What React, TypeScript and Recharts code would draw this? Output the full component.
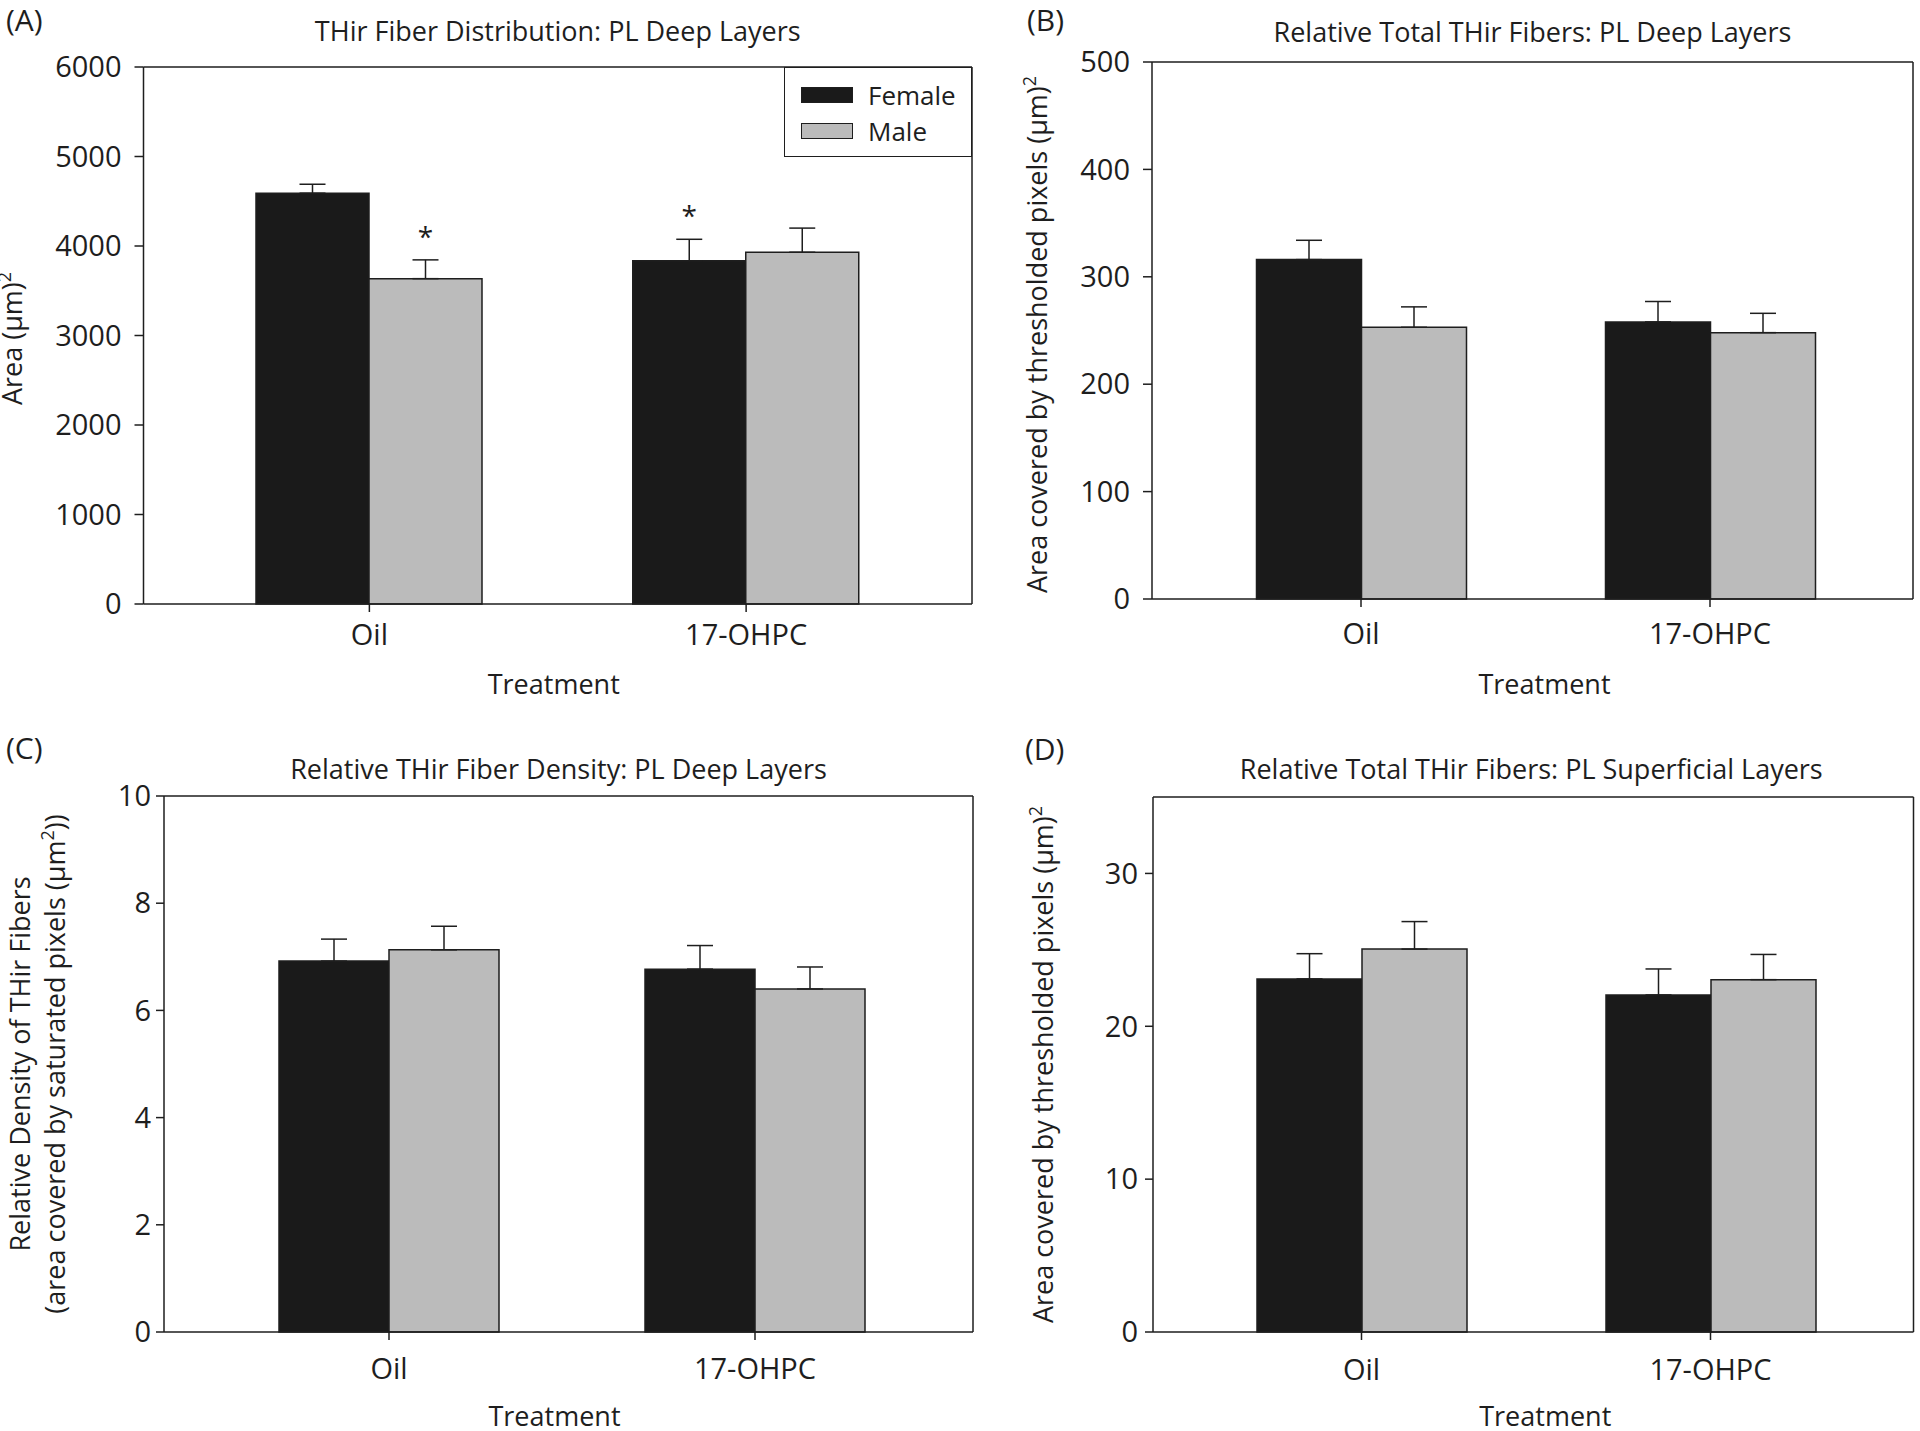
import React from 'react';
import {
  BarChart,
  Bar,
  XAxis,
  YAxis,
  ErrorBar,
  Label,
  LabelList,
  Legend,
  ReferenceLine,
  CartesianGrid,
} from 'recharts';

const treatments = ['Oil', '17-OHPC'];

// (A) THir fiber distribution, PL deep layers
const distFemale = [4590, 3835];
const distFemaleErr = [100, 240];
const distMale = [3635, 3930];
const distMaleErr = [210, 270];
const distFemaleSig = ['', '*'];
const distMaleSig = ['*', ''];

// (B) relative total THir fibers, PL deep layers
const deepFemale = [316, 258];
const deepFemaleErr = [18, 19];
const deepMale = [253, 248];
const deepMaleErr = [19, 18];

// (C) relative THir fiber density, PL deep layers
const densFemale = [6.92, 6.77];
const densFemaleErr = [0.41, 0.44];
const densMale = [7.13, 6.4];
const densMaleErr = [0.44, 0.41];

// (D) relative total THir fibers, PL superficial layers
const supFemale = [23.1, 22.05];
const supFemaleErr = [1.65, 1.7];
const supMale = [25.05, 23.05];
const supMaleErr = [1.8, 1.65];

const FEMALE = '#1a1a1a';
const MALE = '#bbbbbb';
const INK = '#1e1e1e';
const FONT = '"Open Sans", sans-serif';

type Part = { text: string; sup?: boolean };

const rows = (f: number[], fe: number[], m: number[], me: number[], fs?: string[], ms?: string[]) =>
  treatments.map((t, i) => ({
    treatment: t,
    female: f[i],
    male: m[i],
    femaleErr: [0, fe[i]],
    maleErr: [0, me[i]],
    femaleSig: fs ? fs[i] : '',
    maleSig: ms ? ms[i] : '',
  }));

// asterisk sits just above the error bar cap
const sigLabel = (vals: number[], errs: number[]) => (props: any) => {
  const { x, y, width, height, value, index } = props;
  if (!value) return null;
  const perUnit = height / vals[index];
  const top = y - errs[index] * perUnit;
  return (
    <text x={x + width / 2} y={top - 13} textAnchor="middle" fontSize={28} fill={INK} fontFamily={FONT}>
      {value}
    </text>
  );
};

// rotated axis title with real superscripts
const yTitle = (parts: Part[], x: number, shift: number) => (props: any) => {
  const vb = props.viewBox || { x: 0, y: 0, height: 0 };
  const tx = vb.x + x;
  const cy = vb.y + vb.height / 2 + shift;
  let raised = false;
  return (
    <text
      x={tx}
      y={cy}
      dy="0.355em"
      transform={`rotate(-90, ${tx}, ${cy})`}
      textAnchor="middle"
      fontSize={27}
      fill={INK}
      fontFamily={FONT}
    >
      {parts.map((p, i) => {
        let dy = 0;
        if (p.sup && !raised) { dy = -11; raised = true; }
        else if (!p.sup && raised) { dy = 11; raised = false; }
        return (
          <tspan key={i} dy={dy} fontSize={p.sup ? 18 : 27}>
            {p.text}
          </tspan>
        );
      })}
    </text>
  );
};

const legendBox = ({ payload }: any) => (
  <div
    style={{
      boxSizing: 'border-box',
      width: 188,
      height: 90,
      border: `1.5px solid ${INK}`,
      background: '#fff',
      padding: '9px 0 0 16px',
      fontFamily: FONT,
    }}
  >
    {(payload || []).map((p: any) => (
      <div key={p.value} style={{ display: 'flex', alignItems: 'center', height: 36 }}>
        <span
          style={{
            display: 'inline-block',
            width: 52,
            height: 16,
            background: p.color,
            border: `1.5px solid ${INK}`,
            boxSizing: 'border-box',
            marginRight: 15,
          }}
        />
        <span style={{ fontSize: 26, color: INK, lineHeight: '36px' }}>{p.value}</span>
      </div>
    ))}
  </div>
);

type PanelProps = {
  left: number;
  top: number;
  width: number;
  height: number;
  data: any[];
  plot: { l: number; r: number; t: number; b: number };
  domain: [number, number];
  ticks: number[];
  title: string;
  titleOffset: number;
  titleDx: number;
  yLabels: { parts: Part[]; x: number }[];
  yShift: number;
  xLabelOffset: number;
  xLabelDx: number;
  xTickMargin: number;
  yTickMargin: number;
  yTickSize: number;
  pad: { left: number; right: number };
  barSize: number;
  legend?: boolean;
  sig?: { female: any; male: any };
};

const Panel = (p: PanelProps) => {
  const line = { stroke: INK, strokeWidth: 1.5 };
  const tick = { fill: INK, fontSize: 29, fontFamily: FONT };
  return (
    <div style={{ position: 'absolute', left: p.left, top: p.top, width: p.width, height: p.height }}>
      <BarChart
        width={p.width}
        height={p.height}
        data={p.data}
        margin={{ top: p.plot.t, right: p.width - p.plot.r, bottom: 0, left: 0 }}
        barGap={0}
        barSize={p.barSize}
        style={{ fontFamily: FONT }}
      >
        {/* right edge of the plot frame */}
        <CartesianGrid
          horizontal={false}
          stroke={INK}
          strokeWidth={1.5}
          verticalCoordinatesGenerator={({ offset }: any) => [offset.left + offset.width]}
        />
        <XAxis
          dataKey="treatment"
          height={p.height - p.plot.b}
          padding={p.pad}
          axisLine={line}
          tickLine={line}
          tickSize={8}
          tickMargin={p.xTickMargin}
          tick={tick}
          interval={0}
        >
          <Label
            value="Treatment"
            position="insideBottom"
            offset={p.xLabelOffset}
            dx={p.xLabelDx}
            fill={INK}
            fontSize={27}
            fontFamily={FONT}
          />
        </XAxis>
        <YAxis
          width={p.plot.l}
          domain={p.domain}
          ticks={p.ticks}
          interval={0}
          axisLine={line}
          tickLine={line}
          tickSize={p.yTickSize}
          tickMargin={p.yTickMargin}
          tick={tick}
        >
          {p.yLabels.map((l, i) => (
            <Label key={i} position="insideLeft" content={yTitle(l.parts, l.x, p.yShift)} />
          ))}
        </YAxis>
        {p.legend && (
          <Legend
            align="center"
            verticalAlign="middle"
            layout="horizontal"
            wrapperStyle={{ left: 784, top: 67, width: 188, height: 90 }}
            content={legendBox}
          />
        )}
        <Bar dataKey="female" name="Female" fill={FEMALE} stroke={INK} strokeWidth={1.5} isAnimationActive={false}>
          <ErrorBar dataKey="femaleErr" width={13} stroke={INK} strokeWidth={1.5} isAnimationActive={false} />
          {p.sig && <LabelList dataKey="femaleSig" content={p.sig.female} />}
        </Bar>
        <Bar dataKey="male" name="Male" fill={MALE} stroke={INK} strokeWidth={1.5} isAnimationActive={false}>
          <ErrorBar dataKey="maleErr" width={13} stroke={INK} strokeWidth={1.5} isAnimationActive={false} />
          {p.sig && <LabelList dataKey="maleSig" content={p.sig.male} />}
        </Bar>
        {/* top edge of the frame, carrying the panel title */}
        <ReferenceLine y={p.domain[1]} stroke={INK} strokeWidth={1.5}>
          <Label
            value={p.title}
            position="top"
            offset={p.titleOffset}
            dx={p.titleDx}
            fill={INK}
            fontSize={27}
            fontFamily={FONT}
          />
        </ReferenceLine>
      </BarChart>
    </div>
  );
};

const tags = [
  { text: '(A)', x: 6, y: 31 },
  { text: '(B)', x: 1027, y: 31 },
  { text: '(C)', x: 6, y: 759 },
  { text: '(D)', x: 1025, y: 760 },
];

export default function App() {
  return (
    <div style={{ position: 'absolute', left: 0, top: 0, width: 1920, height: 1431, background: '#fff' }}>
      <Panel
        left={0}
        top={0}
        width={980}
        height={720}
        data={rows(distFemale, distFemaleErr, distMale, distMaleErr, distFemaleSig, distMaleSig)}
        plot={{ l: 143.5, r: 972, t: 67, b: 604 }}
        domain={[0, 6000]}
        ticks={[0, 1000, 2000, 3000, 4000, 5000, 6000]}
        title="THir Fiber Distribution: PL Deep Layers"
        titleOffset={26}
        titleDx={0}
        yLabels={[{ parts: [{ text: 'Area (μm)' }, { text: '2', sup: true }], x: 22 }]}
        yShift={3}
        xLabelOffset={26}
        xLabelDx={-4}
        xTickMargin={12}
        yTickMargin={13}
        yTickSize={9}
        pad={{ left: 37.5, right: 37.5 }}
        barSize={113}
        legend
        sig={{ female: sigLabel(distFemale, distFemaleErr), male: sigLabel(distMale, distMaleErr) }}
      />
      <Panel
        left={980}
        top={0}
        width={940}
        height={720}
        data={rows(deepFemale, deepFemaleErr, deepMale, deepMaleErr)}
        plot={{ l: 172, r: 933, t: 62, b: 599 }}
        domain={[0, 500]}
        ticks={[0, 100, 200, 300, 400, 500]}
        title="Relative Total THir Fibers: PL Deep Layers"
        titleOffset={20}
        titleDx={0}
        yLabels={[{ parts: [{ text: 'Area covered by thresholded pixels (μm)' }, { text: '2', sup: true }], x: 67 }]}
        yShift={4}
        xLabelOffset={26}
        xLabelDx={12}
        xTickMargin={16.5}
        yTickMargin={13}
        yTickSize={9}
        pad={{ left: 34.5, right: 28.5 }}
        barSize={105}
      />
      <Panel
        left={0}
        top={720}
        width={980}
        height={711}
        data={rows(densFemale, densFemaleErr, densMale, densMaleErr)}
        plot={{ l: 164, r: 973, t: 76, b: 612 }}
        domain={[0, 10]}
        ticks={[0, 2, 4, 6, 8, 10]}
        title="Relative THir Fiber Density: PL Deep Layers"
        titleOffset={17}
        titleDx={-10}
        yLabels={[
          { parts: [{ text: 'Relative Density of THir Fibers' }], x: 29.5 },
          {
            parts: [{ text: '(area covered by saturated pixels (μm' }, { text: '2', sup: true }, { text: '))' }],
            x: 64.5,
          },
        ]}
        yShift={0}
        xLabelOffset={5}
        xLabelDx={-14}
        xTickMargin={18.5}
        yTickMargin={5}
        yTickSize={8}
        pad={{ left: 42, right: 35 }}
        barSize={110}
      />
      <Panel
        left={980}
        top={720}
        width={940}
        height={711}
        data={rows(supFemale, supFemaleErr, supMale, supMaleErr)}
        plot={{ l: 173, r: 933.5, t: 77, b: 612 }}
        domain={[0, 35]}
        ticks={[0, 10, 20, 30]}
        title="Relative Total THir Fibers: PL Superficial Layers"
        titleOffset={18}
        titleDx={-2}
        yLabels={[{ parts: [{ text: 'Area covered by thresholded pixels (μm)' }, { text: '2', sup: true }], x: 73 }]}
        yShift={0}
        xLabelOffset={5}
        xLabelDx={12}
        xTickMargin={19.5}
        yTickMargin={7}
        yTickSize={8}
        pad={{ left: 34, right: 28.5 }}
        barSize={105}
      />
      <svg width={1920} height={1431} style={{ position: 'absolute', left: 0, top: 0, pointerEvents: 'none' }}>
        {tags.map((t) => (
          <text key={t.text} x={t.x} y={t.y} fontSize={30} fill={INK} fontFamily={FONT}>
            {t.text}
          </text>
        ))}
      </svg>
    </div>
  );
}
